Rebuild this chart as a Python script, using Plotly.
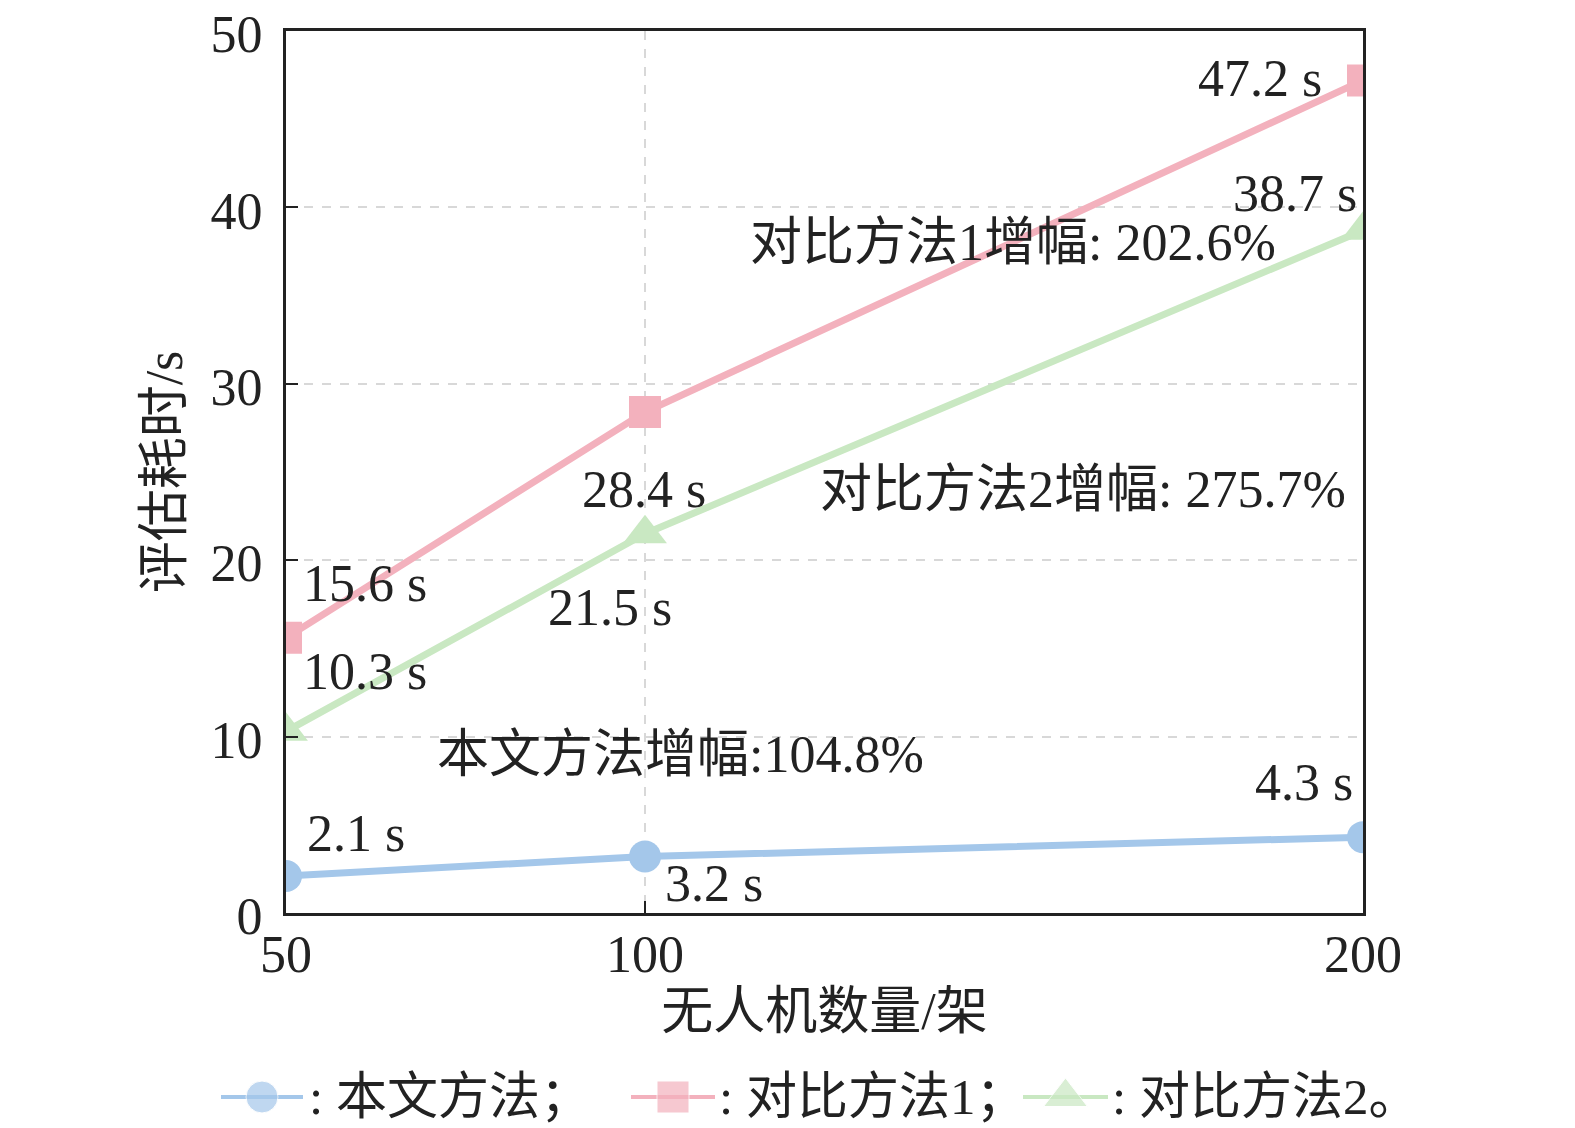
import plotly.graph_objects as go

# 无人机数量/架
drones = [50, 100, 200]
ours = [2.1, 3.2, 4.3]
method1 = [15.6, 28.4, 47.2]
method2 = [10.3, 21.5, 38.7]

names = [": 本文方法；", ": 对比方法1；", ": 对比方法2。"]
colors = ["#a4c7ea", "#f3b1bd", "#c9e8c2"]
symbols = ["circle", "square", "triangle-up"]
msizes = [32, 32, 38]

# 标注文字 (text, x, y)
notes = [
    ("47.2 s", 176.7, 47.3),
    ("38.7 s", 181.6, 40.8),
    ("对比方法1增幅: 202.6%", 114.3, 38.0),
    ("对比方法2增幅: 275.7%", 124.1, 24.0),
    ("28.4 s", 90.9, 24.0),
    ("21.5 s", 86.2, 17.3),
    ("15.6 s", 52.1, 18.7),
    ("10.3 s", 52.1, 13.7),
    ("本文方法增幅:104.8%", 70.8, 9.0),
    ("2.1 s", 52.6, 4.5),
    ("3.2 s", 102.5, 1.7),
    ("4.3 s", 184.7, 7.4),
]

FONT = "Liberation Serif, Times New Roman, Noto Sans CJK SC, serif"
INK = "#222222"
W, H = 1575, 1128
OFF = 5  # page offset correction, px

fig = go.Figure()
for ys, name, c, sym, ms in zip([ours, method1, method2], names, colors, symbols, msizes):
    fig.add_trace(go.Scatter(
        x=drones, y=ys, name=name, mode="lines+markers",
        line=dict(color=c, width=7),
        marker=dict(color=c, size=ms, symbol=sym),
        showlegend=False,
    ))

for t, x, y in notes:
    fig.add_annotation(x=x, y=y, text=t, showarrow=False, xanchor="left", yanchor="middle",
                       font=dict(size=52, color=INK, family=FONT))

# custom legend drawn on a helper axis (pixel-like coordinates)
leg_y = 1094
leg_items = [(218, 300, 304), (628, 712, 714), (1020, 1105, 1107)]
for (x0, x1, tx), name, c, sym, ms in zip(leg_items, names, colors, symbols, msizes):
    fig.add_trace(go.Scatter(
        x=[x0, (x0 + x1) / 2, x1], y=[leg_y] * 3, mode="lines+markers",
        line=dict(color=c, width=4),
        marker=dict(color=c, size=[0, ms, 0], symbol=sym),
        xaxis="x2", yaxis="y2", showlegend=False, hoverinfo="skip", cliponaxis=False,
    ))
    fig.add_annotation(x=tx, y=leg_y, xref="x2", yref="y2", text=name, showarrow=False,
                       xanchor="left", yanchor="middle",
                       font=dict(size=51, color=INK, family=FONT))

axis_common = dict(
    showline=True, linecolor=INK, linewidth=3, mirror=True,
    ticks="inside", ticklen=12, tickwidth=2, tickcolor=INK,
    showgrid=True, gridcolor="#d8d8d8", gridwidth=2, griddash="dash",
    zeroline=False, automargin=False, ticklabeloverflow="allow",
    tickfont=dict(size=52, color=INK, family=FONT),
)

fig.update_layout(
    width=W, height=H,
    margin=dict(l=0, r=0, t=0, b=0),
    plot_bgcolor="white", paper_bgcolor="white",
    showlegend=False,
    xaxis=dict(range=[50, 200], tickvals=[50, 100, 200], domain=[(283 - OFF) / W, (1360 - OFF) / W],
               ticklabelstandoff=-6,
               title=dict(text="无人机数量/架", font=dict(size=52, color=INK, family=FONT), standoff=10),
               **axis_common),
    yaxis=dict(range=[0, 50], tickvals=[0, 10, 20, 30, 40, 50],
               domain=[1 - (910 - OFF) / H, 1 - (28 - OFF) / H],
               ticklabelstandoff=10, ticklabelshift=3,
               title=dict(text="评估耗时/s", font=dict(size=52, color=INK, family=FONT), standoff=12),
               **axis_common),
    xaxis2=dict(range=[OFF, W + OFF], domain=[0, 1], visible=False, fixedrange=True),
    yaxis2=dict(range=[H + OFF, H - 120 + OFF], domain=[0, 120 / H], visible=False, fixedrange=True),
)

fig.write_html("out.html")
